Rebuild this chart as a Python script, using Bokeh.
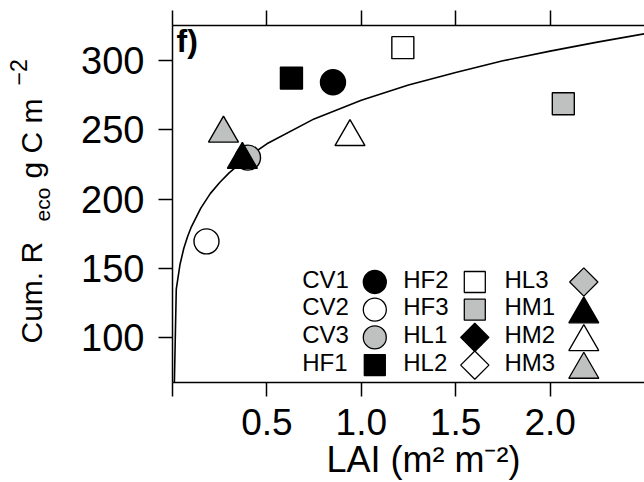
import math
from bokeh.plotting import figure
from bokeh.layouts import row
from bokeh.models import (FixedTicker, LinearAxis, CustomJSTickFormatter, Range1d)
from bokeh.core.properties import value
from bokeh.embed import file_html
from bokeh.resources import INLINE

# ---------------- data ----------------
site_names = ["CV1", "CV2", "CV3", "HF1", "HF2", "HF3",
              "HL1", "HL2", "HL3", "HM1", "HM2", "HM3"]
site_lai = [0.85, 0.18, 0.40, 0.63, 1.22, 2.07,
            float("nan"), float("nan"), float("nan"), 0.37, 0.94, 0.27]
site_reco = [284.5, 169.5, 230.0, 287.5, 309.5, 269.0,
             float("nan"), float("nan"), float("nan"), 228.5, 245.0, 247.5]
site_marker = ["circle", "circle", "circle", "square", "square", "square",
               "diamond", "diamond", "diamond", "triangle", "triangle", "triangle"]
site_fill = ["black", "white", "gray", "black", "white", "gray",
             "black", "white", "gray", "black", "white", "gray"]

# fitted curve
curve_lai = [0, 0.02, 0.04, 0.06, 0.08, 0.1, 0.15, 0.2, 0.25, 0.3, 0.4, 0.5,
             0.75, 1.0, 1.25, 1.5, 1.75, 2.0, 2.25, 2.5]
curve_reco = [0, 135, 153, 164.5, 173, 180, 193.5, 204, 212, 219, 230.5, 240,
              258, 271.5, 282.5, 291.5, 300, 307, 313.5, 319.5]

x_ticks = [0, 0.5, 1.0, 1.5, 2.0]
y_ticks = [100, 150, 200, 250, 300]
x_title = "LAI (m\u00b2 m\u207b\u00b2)"

# ---------------- layout / style ----------------
W, H = 644, 482
LW = 60                      # width of the strip that holds the y title
FL, FR, FT, FB = 172, 644, 25, 382   # frame in page pixels
X0, X1 = 0.0, 2.5
Y0, Y1 = 67.5, 325.5
FONT = "Liberation Sans"
GRAY = "#bfc1c1"
fill_map = {"black": "black", "white": "white", "gray": GRAY}


def dx(px):
    return X0 + (px - FL) / (FR - FL) * (X1 - X0)


def dy(py):
    return Y1 - (py - FT) / (FB - FT) * (Y1 - Y0)


p = figure(width=W - LW, height=H, output_backend="svg", toolbar_location=None,
           x_range=Range1d(X0, X1), y_range=Range1d(Y0, Y1),
           min_border_left=FL - LW, min_border_right=W - FR,
           min_border_top=FT, min_border_bottom=H - FB,
           x_axis_location=None, y_axis_location=None)
p.outline_line_color = None
p.grid.visible = False
p.background_fill_color = "white"
p.border_fill_color = "white"


def style_axis(ax, tick_out):
    ax.axis_line_color = "black"
    ax.axis_line_width = 1.5
    ax.major_tick_line_color = "black"
    ax.major_tick_line_width = 1.5
    ax.major_tick_out = tick_out
    ax.major_tick_in = 0
    ax.minor_tick_line_color = None
    ax.major_label_text_font = FONT
    ax.major_label_text_color = "black"


xb = LinearAxis(ticker=FixedTicker(ticks=x_ticks),
                formatter=CustomJSTickFormatter(code="return tick == 0 ? '' : tick.toFixed(1);"))
style_axis(xb, 14)
xb.major_label_text_font_size = "37px"
xb.major_label_standoff = 12
xb.axis_label = "\u00a0\u00a0\u00a0" + x_title
xb.axis_label_text_font = FONT
xb.axis_label_text_font_size = "36px"
xb.axis_label_text_font_style = "normal"
xb.axis_label_text_color = "black"
xb.axis_label_standoff = 1
p.add_layout(xb, "below")

xt = LinearAxis(ticker=FixedTicker(ticks=x_ticks),
                formatter=CustomJSTickFormatter(code="return '';"))
style_axis(xt, 15)
xt.major_label_text_font_size = "1px"
xt.major_label_standoff = 0
p.add_layout(xt, "above")

yl = LinearAxis(ticker=FixedTicker(ticks=y_ticks))
style_axis(yl, 14)
yl.major_label_text_font_size = "38px"
yl.major_label_standoff = 14
p.add_layout(yl, "left")

# fitted curve
p.line(curve_lai, curve_reco, line_color="black", line_width=1.6)

# site points
plot_size = {"circle": 25, "square": 22, "diamond": 20, "triangle": 30}
for i, name in enumerate(site_names):
    mk = site_marker[i]
    ang = math.pi / 4 if mk == "diamond" else 0
    p.scatter([site_lai[i]], [site_reco[i]],
              marker="square" if mk == "diamond" else mk,
              size=plot_size[mk], angle=ang,
              fill_color=fill_map[site_fill[i]], line_color="black",
              line_width=1.4)

# legend (3 columns x 4 rows, text then symbol)
row_py = [281.5, 309.2, 336.9, 364.6]
text_px = [301.7, 402.7, 504.0]
mark_px = [374.3, 474.3, 583.3]
leg_size = {"circle": 23, "square": 21, "diamond": 20, "triangle": 30}
leg_tx, leg_ty, leg_txt = [], [], []
for i, name in enumerate(site_names):
    col, r = divmod(i, 4)
    ry = row_py[r]
    mk = site_marker[i]
    off = 4.5 if mk == "triangle" else 0
    ang = math.pi / 4 if mk == "diamond" else 0
    p.scatter([dx(mark_px[col])], [dy(ry + off)],
              marker="square" if mk == "diamond" else mk,
              size=leg_size[mk], angle=ang,
              fill_color=fill_map[site_fill[i]], line_color="black",
              line_width=1.3)
    leg_tx.append(dx(text_px[col]))
    leg_ty.append(dy(ry - 3))
    leg_txt.append(name)
p.text(x=leg_tx, y=leg_ty, text=leg_txt, text_font=value(FONT),
       text_font_size="24px", text_color="black", text_align="left",
       text_baseline="middle")

# panel letter
p.text(x=[dx(176)], y=[dy(40)], text=["f)"], text_font=value(FONT),
       text_font_size="32px", text_font_style="bold", text_color="black",
       text_align="left", text_baseline="middle")

# ---------------- y title strip (rotated, with sub/superscript) ----------------
# its frame is given the same vertical extent as the main frame,
# and its ranges are in page pixels
ly = figure(width=LW, height=H, output_backend="svg", toolbar_location=None,
            x_range=Range1d(0, LW), y_range=Range1d(FB, FT),
            min_border_left=0, min_border_right=0,
            min_border_top=FT, min_border_bottom=H - FB,
            x_axis_location=None, y_axis_location=None)
ly.outline_line_color = None
ly.grid.visible = False
ly.background_fill_color = "white"
ly.border_fill_color = "white"

y_title_parts = ["Cum. R", "eco", "g C m", "\u22122"]
y_title_px = [31.4, 42.4, 31.4, 17.5]
y_title_py = [343, 221, 178, 85]
y_title_fs = ["30px", "21px", "30px", "23px"]
for txt, px, py, fs in zip(y_title_parts, y_title_px, y_title_py, y_title_fs):
    ly.text(x=[px], y=[py], text=[txt], text_font=value(FONT),
            text_font_size=fs, angle=math.pi / 2, text_color="black",
            text_align="left", text_baseline="middle")

open("out.html", "w").write(file_html(row(ly, p), INLINE))
